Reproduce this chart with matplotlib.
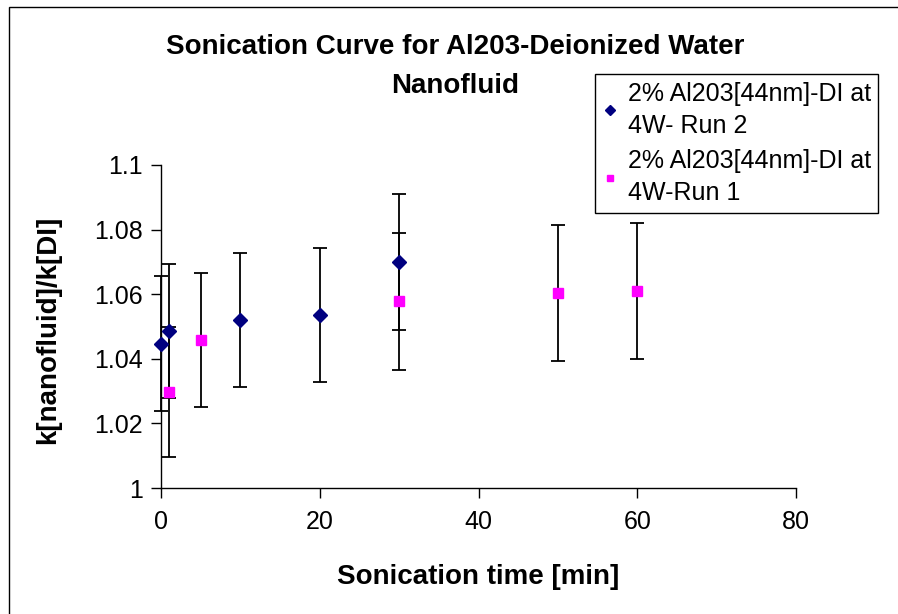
import matplotlib
matplotlib.use("Agg")
import matplotlib.pyplot as plt
from matplotlib.patches import Rectangle

plt.rcParams["font.family"] = ["Liberation Sans", "DejaVu Sans"]

# Run 2 (navy diamonds)
run2_time = [0, 1, 10, 20, 30]
run2_k = [1.0447, 1.0486, 1.0520, 1.0536, 1.0700]
run2_err = [0.0208, 0.0208, 0.0208, 0.0208, 0.0210]

# Run 1 (magenta squares)
run1_time = [1, 5, 30, 50, 60]
run1_k = [1.0297, 1.0458, 1.0578, 1.0604, 1.0610]
run1_err = [0.0202, 0.0208, 0.0212, 0.0210, 0.0210]

run2_label = "2% Al203[44nm]-DI at\n4W- Run 2"
run1_label = "2% Al203[44nm]-DI at\n4W-Run 1"

x_ticks = [0, 20, 40, 60, 80]
y_ticks = [1.0, 1.02, 1.04, 1.06, 1.08, 1.1]
y_tick_labels = ["1", "1.02", "1.04", "1.06", "1.08", "1.1"]

W, H = 898, 614
fig = plt.figure(figsize=(W / 100, H / 100), dpi=100)
ax = fig.add_axes([161 / W, 1 - 488 / H, (796 - 161) / W, (488 - 165) / H])

ax.errorbar(run2_time, run2_k, yerr=run2_err, fmt="D", color="#000080",
            markersize=7.5, ecolor="black", elinewidth=1.3, capsize=5,
            capthick=1.3, label=run2_label, zorder=3)
ax.errorbar(run1_time, run1_k, yerr=run1_err, fmt="s", color="#FF00FF",
            markersize=7.5, ecolor="black", elinewidth=1.3, capsize=5,
            capthick=1.3, label=run1_label, zorder=3)

ax.set_xlim(0, 80)
ax.set_ylim(1.0, 1.1)
ax.set_xticks(x_ticks)
ax.set_yticks(y_ticks)
ax.set_yticklabels(y_tick_labels)
ax.tick_params(direction="out", length=7, width=1, labelsize=18, pad=6)
ax.tick_params(axis="x", pad=9)
ax.spines["top"].set_visible(False)
ax.spines["right"].set_visible(False)
for s in ("left", "bottom"):
    ax.spines[s].set_linewidth(1)
for c in ax.get_children():
    try:
        c.set_clip_on(False)
    except Exception:
        pass

handles, labels = ax.get_legend_handles_labels()
handles = [h[0] for h in handles]
leg = fig.legend(handles, labels, loc="upper left",
                 bbox_to_anchor=(595 / W, 1 - 74 / H), fontsize=18,
                 frameon=True, fancybox=False, edgecolor="black",
                 framealpha=1, markerscale=0.65, handlelength=0.6,
                 handletextpad=0.4, borderpad=0.3, labelspacing=0.45,
                 borderaxespad=0)
leg.get_frame().set_linewidth(1)
for t in leg.get_texts():
    t.set_linespacing(1.43)

fig.text(455 / W, 1 - 47 / H, "Sonication Curve for Al203-Deionized Water",
         ha="center", va="center", fontsize=20, fontweight="bold")
fig.text(455 / W, 1 - 86 / H, "Nanofluid",
         ha="center", va="center", fontsize=20, fontweight="bold")
fig.text(478 / W, 1 - 577 / H, "Sonication time [min]", ha="center",
         va="center", fontsize=20, fontweight="bold")
fig.text(48 / W, 1 - 330 / H, "k[nanofluid]/k[DI]", ha="center",
         va="center", rotation=90, fontsize=20, fontweight="bold")

# chart border (only the top and left edges are inside the picture)
fig.patches.append(Rectangle((9 / W, -0.1), 1.2, 1 - 7 / H + 0.1,
                             transform=fig.transFigure, fill=False,
                             edgecolor="black", linewidth=1))

fig.savefig("out.png", dpi=100)
